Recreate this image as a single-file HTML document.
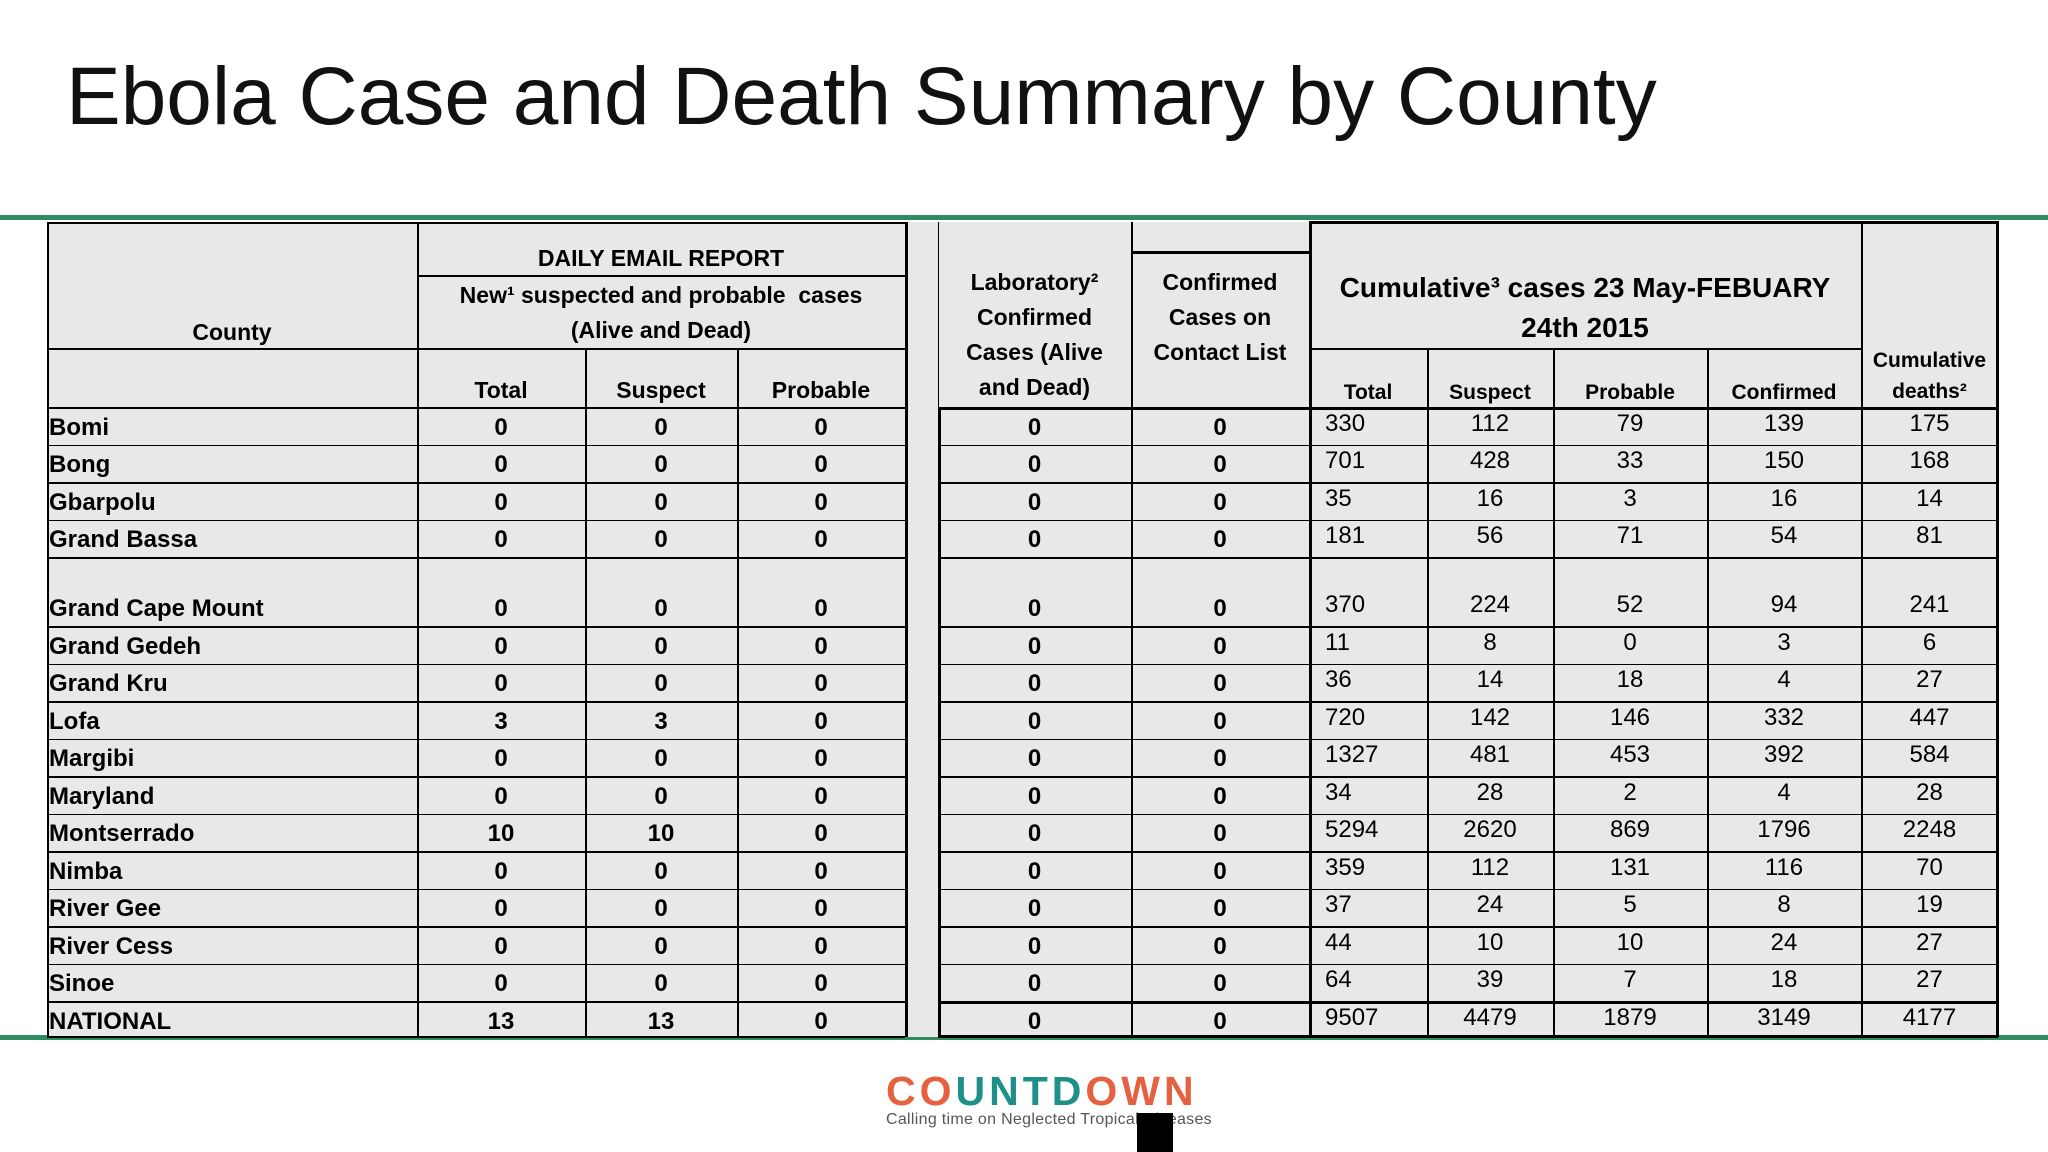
<!DOCTYPE html>
<html><head><meta charset="utf-8">
<style>
body{margin:0;width:2048px;height:1152px;background:#fff;position:relative;overflow:hidden;font-family:"Liberation Sans",sans-serif;}
.a{position:absolute;}
.c{position:absolute;display:flex;align-items:center;justify-content:center;text-align:center;color:#000;font-weight:bold;font-size:23px;line-height:35px;}
.h{position:absolute;background:#000;}
</style></head><body>
<div class="a" style="left:66px;top:50px;font-size:82px;color:#111;white-space:nowrap;">Ebola Case and Death Summary by County</div>
<div class="a" style="left:0;top:215px;width:2048px;height:5px;background:#2e8b63;"></div>
<div class="a" style="left:0;top:1035px;width:2048px;height:5px;background:#2e8b63;"></div>
<div id="tbl" class="a" style="left:0;top:0;width:2048px;height:1152px;">
<div class="a" style="left:47px;top:222px;width:1951px;height:815px;background:#e8e8e8;"></div>
<div class="c" style="left:47px;top:310px;width:370px;height:45px;">County</div>
<div class="c" style="left:417px;top:240px;width:488px;height:36px;">DAILY EMAIL REPORT</div>
<div class="c" style="left:417px;top:277px;width:488px;height:72px;">New¹ suspected and probable&nbsp; cases<br>(Alive and Dead)</div>
<div class="c" style="left:417px;top:372px;width:168px;height:36px;">Total</div>
<div class="c" style="left:585px;top:372px;width:152px;height:36px;">Suspect</div>
<div class="c" style="left:737px;top:372px;width:168px;height:36px;">Probable</div>
<div class="c" style="left:938px;top:264px;width:193px;height:142px;">Laboratory²<br>Confirmed<br>Cases (Alive<br>and Dead)</div>
<div class="c" style="left:1131px;top:264px;width:178px;height:107px;">Confirmed<br>Cases on<br>Contact List</div>
<div class="c" style="left:1309px;top:266px;width:552px;height:84px;font-size:28px;line-height:40px;">Cumulative³ cases 23 May-FEBUARY<br>24th 2015</div>
<div class="c" style="left:1309px;top:377px;width:118px;height:30px;font-size:21px;">Total</div>
<div class="c" style="left:1427px;top:377px;width:126px;height:30px;font-size:21px;">Suspect</div>
<div class="c" style="left:1553px;top:377px;width:154px;height:30px;font-size:21px;">Probable</div>
<div class="c" style="left:1707px;top:377px;width:154px;height:30px;font-size:21px;">Confirmed</div>
<div class="c" style="left:1861px;top:344px;width:137px;height:64px;font-size:21px;line-height:31px;">Cumulative<br>deaths²</div>
</div>
<div class="a" style="left:886px;top:1068px;font-size:41px;font-weight:bold;letter-spacing:4px;white-space:nowrap;"><span style="color:#e5613f">CO</span><span style="color:#1f8f8a">UNTD</span><span style="color:#e5613f">OWN</span></div>
<div class="a" style="left:886px;top:1111px;font-size:16px;color:#555;white-space:nowrap;letter-spacing:0.3px;">Calling time on Neglected Tropical Diseases</div>
<div class="a" style="left:1137px;top:1113px;width:36px;height:39px;background:#000;"></div>
<script>
const counties=["Bomi","Bong","Gbarpolu","Grand Bassa","Grand Cape Mount","Grand Gedeh","Grand Kru","Lofa","Margibi","Maryland","Montserrado","Nimba","River Gee","River Cess","Sinoe","NATIONAL"];
const newTotal=[0,0,0,0,0,0,0,3,0,0,10,0,0,0,0,13];
const newSuspect=[0,0,0,0,0,0,0,3,0,0,10,0,0,0,0,13];
const newProbable=[0,0,0,0,0,0,0,0,0,0,0,0,0,0,0,0];
const labConfirmed=[0,0,0,0,0,0,0,0,0,0,0,0,0,0,0,0];
const contactList=[0,0,0,0,0,0,0,0,0,0,0,0,0,0,0,0];
const cumTotal=[330,701,35,181,370,11,36,720,1327,34,5294,359,37,44,64,9507];
const cumSuspect=[112,428,16,56,224,8,14,142,481,28,2620,112,24,10,39,4479];
const cumProbable=[79,33,3,71,52,0,18,146,453,2,869,131,5,10,7,1879];
const cumConfirmed=[139,150,16,54,94,3,4,332,392,4,1796,116,8,24,18,3149];
const cumDeaths=[175,168,14,81,241,6,27,447,584,28,2248,70,19,27,27,4177];
const T=document.getElementById('tbl');
const cols=[47,417,585,737,905,938,1131,1309,1427,1553,1707,1861,1998];
function line(x,y,w,h){const d=document.createElement('div');d.className='h';


d.style.cssText+=`left:${x}px;top:${y}px;width:${w}px;height:${h}px`;T.appendChild(d);}
const rowTops=[];let y=407;
counties.forEach((c,i)=>{const h=(i===4)?69:37.5;rowTops.push([y,h]);y+=h;});
const cols2=[counties,newTotal,newSuspect,newProbable,null,labConfirmed,contactList,cumTotal,cumSuspect,cumProbable,cumConfirmed,cumDeaths];
const names=['county','new-total','new-suspect','new-probable',null,'lab-confirmed','contact-list','cum-total','cum-suspect','cum-probable','cum-confirmed','cum-deaths'];
rowTops.forEach(([ty,h],i)=>{
 cols2.forEach((arr,j)=>{if(!arr)return;
  const d=document.createElement('div');d.className='c';
  
  
  const x0=cols[j],w=cols[j+1]-x0;
  let st=`left:${x0}px;top:${ty}px;width:${w}px;height:${h}px;align-items:flex-end;font-size:24px;`;
  if(j===0)st+='justify-content:flex-start;padding-left:2px;';
  if(j>=7){st+='font-weight:normal;align-items:flex-end;padding-bottom:4px;box-sizing:border-box;';}
  if(j===7)st+='justify-content:flex-start;padding-left:16px;';
  d.style.cssText=st;d.textContent=arr[i];T.appendChild(d);
 });
 line(47,ty,858,1.5);line(938,ty,1060,i===0?3:(i===15?3:1.5));
});
line(47,222,858,1.5);line(417,275,488,2);line(47,348,858,1.5);
line(1131,251,178,2.5);line(1309,221,689,3);line(1309,348,552,1.5);
line(47,1036,858,1.5);line(938,1035,1060,3);
[[47,222,1037,1.5],[417,222,1037,1.5],[585,348,1037,1.5],[737,348,1037,1.5],[905,222,1037,2.5],[938,407,1037,2.5],[938,222,407,1],[1131,222,1037,1.5],[1309,221,1037,2.5],[1427,348,1037,1.5],[1553,348,1037,1.5],[1707,348,1037,1.5],[1861,221,1037,1.5],[1996,221,1037,3]].forEach(v=>line(v[0],v[1],v[3],v[2]-v[1]));
</script>
</body></html>
